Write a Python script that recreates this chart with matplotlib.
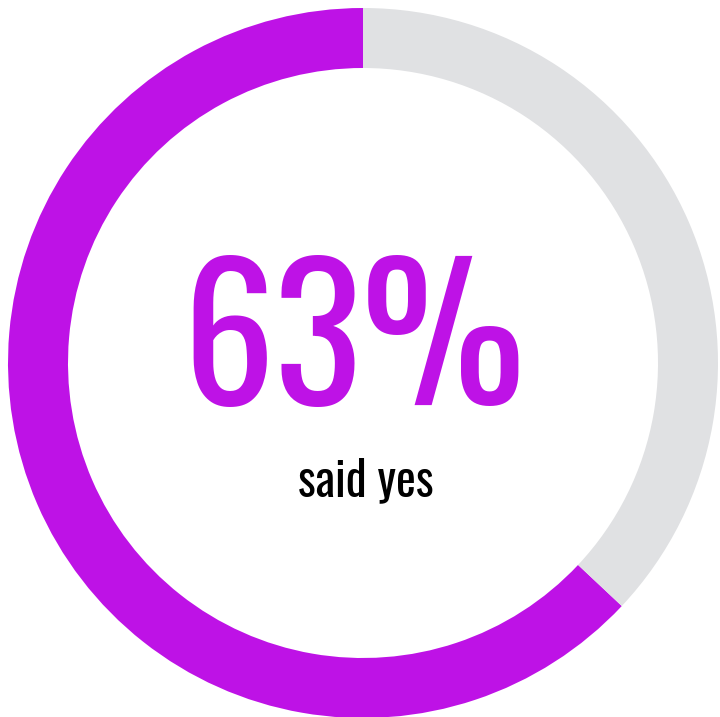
import matplotlib.pyplot as plt

share = [63, 37]
colors = ["#be12e6", "#e0e1e3"]
big_label = "63%"
sub_label = "said yes"

W, H = 720, 717
fig = plt.figure(figsize=(W / 100, H / 100), dpi=100)
ax = fig.add_axes([0, 0, 1, 1])

# ring centred at (363, 363) px from the top-left, 355 px outer radius, 60 px thick
cx, cy = 363, H - 363
ax.pie(share, colors=colors, startangle=90, counterclock=True,
       radius=355, center=(cx, cy), frame=True,
       wedgeprops=dict(width=60, linewidth=0))
ax.set_xlim(0, W)
ax.set_ylim(0, H)
ax.set_aspect("equal")
ax.axis("off")

font = ["Oswald", "DejaVu Sans"]
ax.text(354, H - 405, big_label, ha="center", va="baseline", color=colors[0],
        fontsize=132, family=font)
ax.text(366, H - 496, sub_label, ha="center", va="baseline", color="black",
        fontsize=34, family=font)

fig.savefig("out.png", dpi=100)
